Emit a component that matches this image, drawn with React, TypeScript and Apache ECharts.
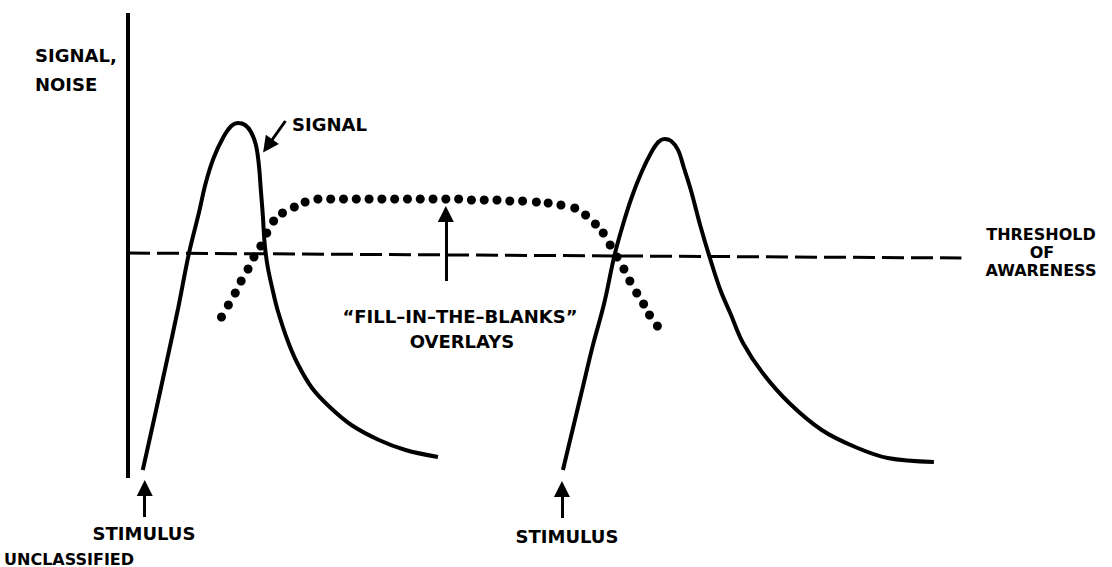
import React, { useEffect, useRef } from "react";
import * as echarts from "echarts";

// Units: x = time, y = signal level (arbitrary units)
const axisLineX = [0, 0];
const axisLineY = [0, 465];

const thresholdX = [0, 847];
const thresholdY = [225, 220];

const signal1X = [15, 27, 39, 51, 62, 72, 79, 87, 97, 105, 112, 119, 125, 130, 133, 135, 137, 139, 142, 147, 152, 162, 172, 187, 205, 227, 255, 282, 315];
const signal1Y = [8, 61, 115, 170, 225, 265, 295, 320, 341, 352, 355, 353, 346, 333, 313, 288, 263, 233, 211, 188, 168, 138, 115, 90, 71, 53, 38, 28, 21];

const signal2X = [442, 452, 462, 472, 484, 494, 502, 512, 522, 532, 539, 545, 552, 559, 565, 572, 582, 592, 602, 612, 625, 645, 672, 705, 739, 772, 819];
const signal2Y = [8, 49, 90, 131, 175, 221, 250, 281, 306, 326, 336, 339, 337, 328, 310, 288, 251, 218, 188, 165, 135, 105, 75, 48, 31, 20, 16];

const overlayX = [95, 102, 109, 115, 122, 128, 135, 141, 148, 157, 169, 180, 193, 206, 219, 232, 245, 258, 271, 284, 297, 310, 323, 336, 349, 362, 375, 388, 401, 415, 427, 440, 454, 465, 475, 483, 490, 497, 504, 510, 517, 524, 530, 538];
const overlayY = [161, 173, 185, 197, 209, 221, 232, 245, 257, 265, 271, 276, 279, 279, 279, 279, 279, 279, 279, 279, 279, 279, 279, 279, 278, 278, 278, 277, 277, 276, 275, 273, 270, 263, 254, 245, 233, 221, 209, 197, 185, 174, 163, 152];

// Arrows: [tailX, tailY, headX, headY]
const arrowSignal = [160, 357, 142, 332];
const arrowOverlay = [323, 197, 323, 264];
const arrowStimulus1 = [17, -39, 17, -10];
const arrowStimulus2 = [441, -40, 441, -11];

const zip = (xs: number[], ys: number[]) => xs.map((x, i) => [x, ys[i]]);
const arrowCoords = (a: number[]) => ({ coords: [[a[0], a[1]], [a[2], a[3]]] });

const FONT = "DejaVu Sans";
const txt = (text: string, x: number, y: number, align: string = "left", size = 18) => ({
  type: "text",
  x,
  y,
  style: {
    text,
    fill: "#000",
    font: `bold ${size}px "${FONT}"`,
    textAlign: align,
    textVerticalAlign: "middle",
  },
});

export default function App() {
  const ref = useRef<HTMLDivElement>(null);
  useEffect(() => {
    if (!ref.current) return;
    const chart = echarts.init(ref.current, null, { renderer: "svg" });
    chart.setOption({
      animation: false,
      backgroundColor: "#ffffff",
      grid: { left: 128, top: 13, width: 1000, height: 554 },
      xAxis: { type: "value", min: 0, max: 1000, show: false },
      yAxis: { type: "value", min: -89, max: 465, show: false },
      series: [
        {
          type: "line",
          data: zip(thresholdX, thresholdY),
          showSymbol: false,
          lineStyle: { color: "#000", width: 3, type: [22, 7], cap: "butt" },
          z: 1,
        },
        {
          type: "scatter",
          data: zip(overlayX, overlayY),
          symbol: "circle",
          symbolSize: 9,
          itemStyle: { color: "#000", opacity: 1 },
          z: 2,
        },
        {
          type: "line",
          data: zip(signal1X, signal1Y),
          showSymbol: false,
          smooth: 0.35,
          lineStyle: { color: "#000", width: 4 },
          z: 3,
        },
        {
          type: "line",
          data: zip(signal2X, signal2Y),
          showSymbol: false,
          smooth: 0.35,
          lineStyle: { color: "#000", width: 4 },
          z: 3,
        },
        {
          type: "line",
          data: zip(axisLineX, axisLineY),
          showSymbol: false,
          lineStyle: { color: "#000", width: 4 },
          z: 3,
        },
        {
          type: "lines",
          coordinateSystem: "cartesian2d",
          data: [arrowSignal, arrowOverlay, arrowStimulus1, arrowStimulus2].map(arrowCoords),
          symbol: ["none", "triangle"],
          symbolSize: [10, 16],
          lineStyle: { color: "#000", width: 3, opacity: 1 },
          itemStyle: { color: "#000" },
          z: 4,
        },
      ],
      graphic: [
        txt("SIGNAL,", 35, 55),
        txt("NOISE", 35, 84),
        txt("SIGNAL", 292, 124),
        txt("THRESHOLD", 1041, 234, "center", 16),
        txt("OF", 1042, 252, "center", 16),
        txt("AWARENESS", 1041, 270, "center", 16),
        txt("\u201CFILL\u2013IN\u2013THE\u2013BLANKS\u201D", 460, 316, "center"),
        txt("OVERLAYS", 462, 341, "center"),
        txt("STIMULUS", 144, 533, "center"),
        txt("STIMULUS", 567, 536, "center"),
        txt("UNCLASSIFIED", 4, 559, "left", 16),
      ],
    });
    return () => chart.dispose();
  }, []);
  return (
    <div
      ref={ref}
      style={{ position: "absolute", left: 0, top: 0, width: 1112, height: 567, background: "#fff" }}
    />
  );
}
